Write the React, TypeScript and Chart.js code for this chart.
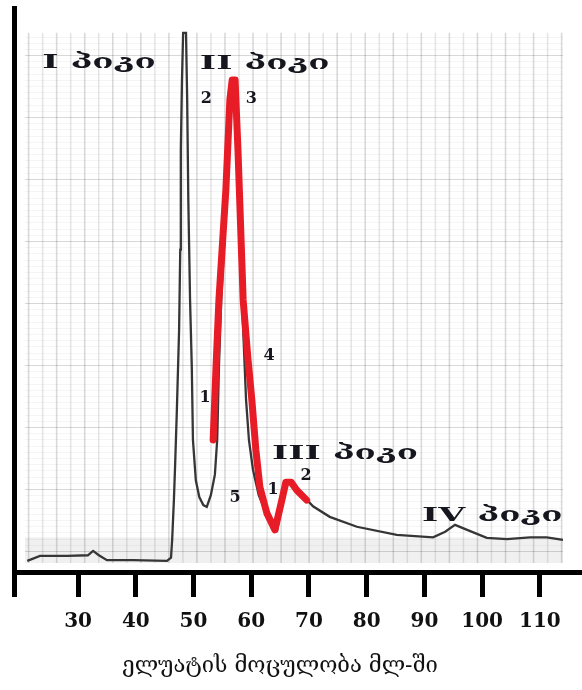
import React, { useEffect, useRef } from 'react';
import { Chart, registerables } from 'chart.js';

Chart.register(...registerables);

// x axis (elution volume, ml)
const xTickValues = [30, 40, 50, 60, 70, 80, 90, 100, 110];
const xMin = 18.9;
const xMax = 117.3;
const yMin = 0;
const yMax = 91;
const axisTitle = 'ელუატის მოცულობა მლ-ში';
const axisTitleCenter = 65;

// black trace (whole chromatogram)
const elutionVolume = [
  21.2, 23.4, 28.1, 31.7, 32.6, 33.6, 35.0, 39.5, 45.4, 46.1, 46.3, 46.6, 46.8, 47.1, 47.5, 47.7,
  47.8, 48.0, 48.2, 48.7, 48.9, 49.1, 49.4, 49.7, 49.9, 50.4, 51.0, 51.7, 52.3, 53.0, 53.7, 54.1,
  54.4, 54.8, 55.8, 56.5, 56.8, 57.4, 57.7, 58.4, 59.1, 59.6, 60.3, 61.3, 62.7, 64.5, 65.3, 65.8,
  66.9, 67.9, 69.7, 70.7, 73.6, 78.3, 85.2, 91.5, 93.6, 95.3, 97.4, 100.8, 104.3, 108.3, 111.2, 114.0,
];
const absorbance = [
  1.8, 2.6, 2.6, 2.7, 3.4, 2.7, 1.9, 1.9, 1.8, 2.3, 5.2, 11.6, 16.9, 25.7, 39.0, 52.0,
  68.1, 79.4, 87.0, 87.0, 76.2, 60.0, 43.9, 33.1, 21.3, 14.8, 12.1, 10.8, 10.5, 12.4, 15.7, 21.3,
  33.1, 43.9, 61.6, 77.0, 79.7, 79.7, 68.1, 43.9, 27.8, 21.3, 16.5, 12.4, 9.2, 6.8, 10.8, 14.4,
  14.4, 13.2, 11.6, 10.6, 8.9, 7.3, 6.0, 5.6, 6.5, 7.6, 6.8, 5.5, 5.3, 5.6, 5.6, 5.2,
];

// red trace (II and III peak region)
const redVolume = [
  53.4, 53.9, 54.4, 55.6, 56.3, 56.7, 57.2, 57.7, 58.6, 59.4, 60.1, 60.8, 61.5, 62.7, 64.1, 65.3,
  66.0, 66.9, 67.9, 69.6,
];
const redAbsorbance = [
  21.3, 33.1, 43.9, 61.6, 76.2, 79.4, 79.4, 68.1, 43.9, 34.7, 27.8, 19.7, 13.7, 9.5, 6.8, 11.6,
  14.5, 14.5, 13.2, 11.6,
];

// annotations
const peakLabels = ['I პიკი', 'II პიკი', 'III პიკი', 'IV პიკი'];
const peakLabelX = [23.8, 51.1, 63.6, 89.6];
const peakLabelY = [82.1, 82.0, 19.0, 9.0];
const fractionLabels = ['2', '3', '1', '4', '5', '1', '2'];
const fractionX = [52.2, 60.0, 52.0, 63.1, 57.2, 63.8, 69.5];
const fractionY = [76.3, 76.3, 28.1, 34.9, 11.9, 13.2, 15.5];

// recorder paper extent (data units)
const paperXMin = 20.8;
const paperXMax = 114.0;
const paperYMin = 1.45;
const paperYMax = 87.0;
const paperBandTop = 5.6;
const paperVFirst = 21.43;
const paperVStep = 2.43;
const paperHFirst = 3.4;
const paperHStep = 10;

const paperPlugin = {
  id: 'paper',
  beforeDatasetsDraw(chart: any) {
    const { ctx } = chart;
    const x = chart.scales.x;
    const y = chart.scales.y;
    const left = x.getPixelForValue(paperXMin);
    const right = x.getPixelForValue(paperXMax);
    const top = y.getPixelForValue(paperYMax);
    const bottom = y.getPixelForValue(paperYMin);
    ctx.save();
    const bandTop = y.getPixelForValue(paperBandTop);
    ctx.fillStyle = 'rgba(0,0,0,0.06)';
    ctx.fillRect(left, bandTop, right - left, bottom - bandTop);
    ctx.lineWidth = 1;
    ctx.strokeStyle = 'rgba(0,0,0,0.04)';
    for (let v = paperHFirst; v <= paperYMax; v += paperHStep / 10) {
      const py = Math.round(y.getPixelForValue(v)) + 0.5;
      ctx.beginPath();
      ctx.moveTo(left, py);
      ctx.lineTo(right, py);
      ctx.stroke();
    }
    ctx.strokeStyle = 'rgba(0,0,0,0.12)';
    for (let v = paperHFirst; v <= paperYMax; v += paperHStep) {
      const py = Math.round(y.getPixelForValue(v)) + 0.5;
      ctx.beginPath();
      ctx.moveTo(left, py);
      ctx.lineTo(right, py);
      ctx.stroke();
    }
    let i = 0;
    for (let v = paperVFirst; v <= paperXMax + 0.01; v += paperVStep) {
      const px = x.getPixelForValue(v);
      ctx.strokeStyle = i % 2 === 0 ? 'rgba(0,0,0,0.15)' : 'rgba(0,0,0,0.10)';
      ctx.lineWidth = 1.6;
      ctx.beginPath();
      ctx.moveTo(px, top);
      ctx.lineTo(px, bottom);
      ctx.stroke();
      i++;
    }
    ctx.restore();
  },
};

const labelPlugin = {
  id: 'peakLabels',
  afterDatasetsDraw(chart: any) {
    const { ctx } = chart;
    const x = chart.scales.x;
    const y = chart.scales.y;
    ctx.save();
    ctx.fillStyle = '#16161e';
    ctx.textBaseline = 'middle';
    ctx.font = 'bold 19px "DejaVu Serif", "DejaVu Sans", serif';
    ctx.textAlign = 'left';
    peakLabels.forEach((t, k) => {
      ctx.save();
      ctx.translate(x.getPixelForValue(peakLabelX[k]), y.getPixelForValue(peakLabelY[k]));
      ctx.scale(1.83, 1);
      ctx.fillText(t, 0, 0);
      ctx.restore();
    });
    ctx.font = 'bold 16px "DejaVu Serif", serif';
    ctx.textAlign = 'center';
    fractionLabels.forEach((t, k) => {
      ctx.fillText(t, x.getPixelForValue(fractionX[k]), y.getPixelForValue(fractionY[k]));
    });
    ctx.restore();
  },
  afterDraw(chart: any) {
    const { ctx } = chart;
    const x = chart.scales.x;
    ctx.save();
    ctx.fillStyle = '#111';
    ctx.font = '22px "DejaVu Serif", "DejaVu Sans", serif';
    ctx.textAlign = 'center';
    ctx.textBaseline = 'middle';
    ctx.fillText(axisTitle, x.getPixelForValue(axisTitleCenter), x.bottom - 11 - 13);
    ctx.restore();
  },
};

export default function App() {
  const canvasRef = useRef<HTMLCanvasElement | null>(null);

  useEffect(() => {
    document.body.style.margin = '0';
    const canvas = canvasRef.current;
    if (!canvas) return;
    const chart = new Chart(canvas, {
      type: 'line',
      data: {
        datasets: [
          {
            label: 'black',
            data: elutionVolume.map((v, i) => ({ x: v, y: absorbance[i] })),
            borderColor: '#363636',
            borderWidth: 2.3,
            pointRadius: 0,
            tension: 0,
            order: 2,
          },
          {
            label: 'red',
            data: redVolume.map((v, i) => ({ x: v, y: redAbsorbance[i] })),
            borderColor: 'rgb(232,28,38)',
            borderWidth: 7,
            borderCapStyle: 'round',
            borderJoinStyle: 'round',
            pointRadius: 0,
            tension: 0,
            order: 1,
          },
        ],
      },
      options: {
        responsive: false,
        animation: false,
        devicePixelRatio: 1,
        layout: { padding: { left: 14, right: 0, top: 8, bottom: 0 } },
        plugins: {
          legend: { display: false },
          tooltip: { enabled: false },
          title: { display: false },
        },
        scales: {
          x: {
            type: 'linear',
            min: xMin,
            max: xMax,
            afterBuildTicks: (scale: any) => {
              scale.ticks = [xMin, ...xTickValues].map((v) => ({ value: v }));
            },
            afterFit: (scale: any) => {
              scale.height = 118;
            },
            ticks: {
              autoSkip: false,
              maxRotation: 0,
              padding: 13,
              color: '#111',
              font: { family: '"DejaVu Serif", serif', size: 20, weight: 'bold' },
              callback: (v: any) => (v === xMin ? '' : String(v)),
            },
            grid: {
              drawOnChartArea: false,
              drawTicks: true,
              tickLength: 25,
              tickWidth: 5,
              tickColor: '#000',
            },
            border: { display: true, color: '#000', width: 5 },
            title: { display: false },
          },
          y: {
            type: 'linear',
            min: yMin,
            max: yMax,
            ticks: { display: false },
            grid: { drawOnChartArea: false, drawTicks: false },
            border: { display: true, color: '#000', width: 5 },
          },
        },
      },
      plugins: [paperPlugin, labelPlugin],
    });
    return () => chart.destroy();
  }, []);

  return (
    <div style={{ position: 'absolute', left: 0, top: 0, width: 582, height: 690 }}>
      <canvas ref={canvasRef} width={582} height={690} />
    </div>
  );
}
